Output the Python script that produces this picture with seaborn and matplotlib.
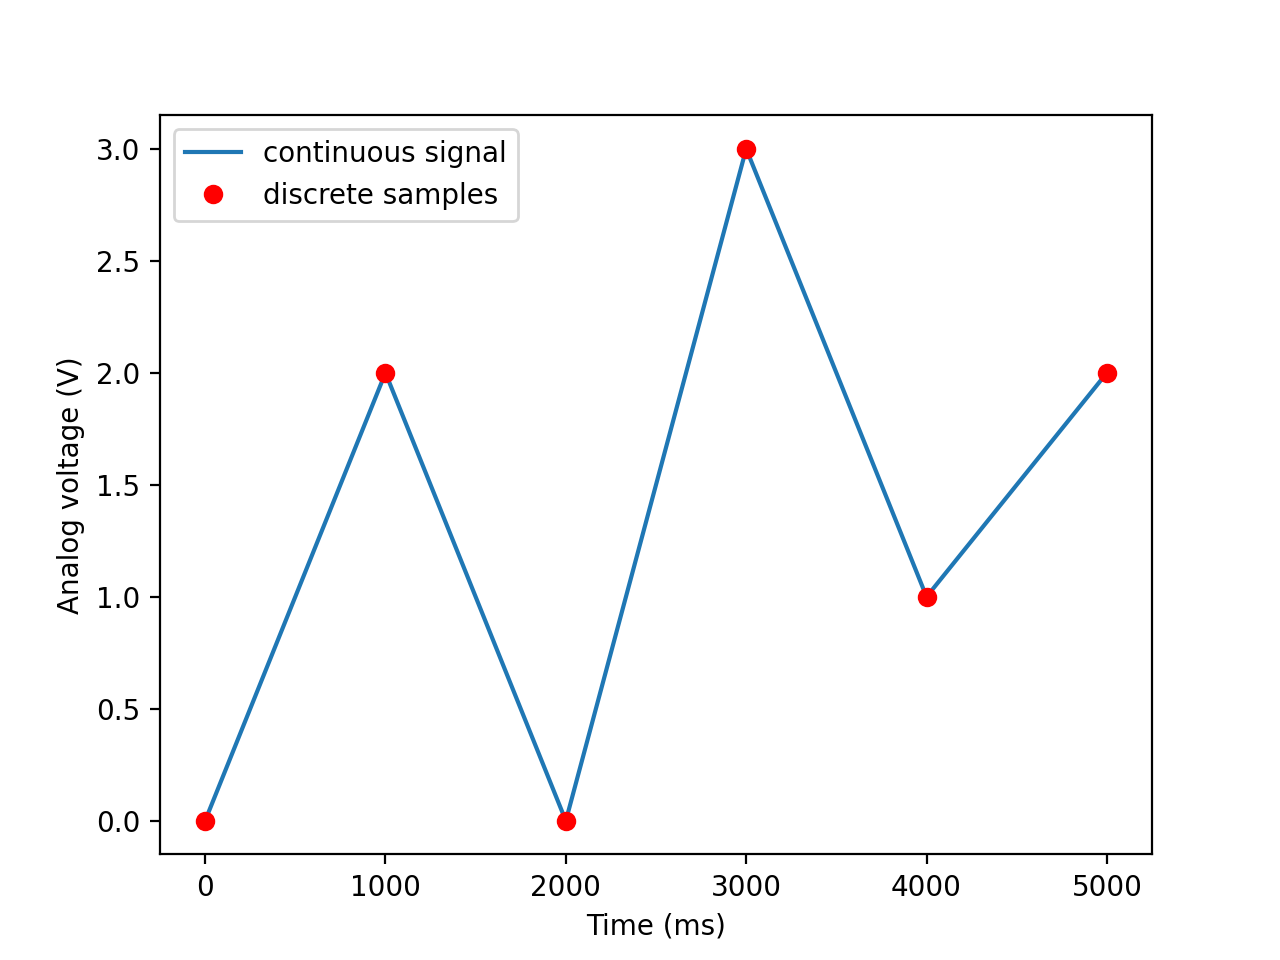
import matplotlib
matplotlib.use('Agg')
import matplotlib.pyplot as plt
import seaborn as sns
import pandas as pd

time_ms = [0, 1000, 2000, 3000, 4000, 5000]
voltage = [0, 2, 0, 3, 1, 2]

df = pd.DataFrame({'time': time_ms, 'voltage': voltage})

plt.rcParams.update(plt.rcParamsDefault)
fig, ax = plt.subplots(figsize=(6.4, 4.8), dpi=200)
sns.lineplot(data=df, x='time', y='voltage', ax=ax, color='#1f77b4', label='continuous signal')
sns.lineplot(data=df, x='time', y='voltage', ax=ax, color='red', linestyle='', marker='o',
             markersize=6, markeredgecolor='red', markeredgewidth=1, label='discrete samples')
ax.set_xlabel('Time (ms)')
ax.set_ylabel('Analog voltage (V)')
ax.legend(loc='upper left')
fig.savefig('out.png', dpi=200)
